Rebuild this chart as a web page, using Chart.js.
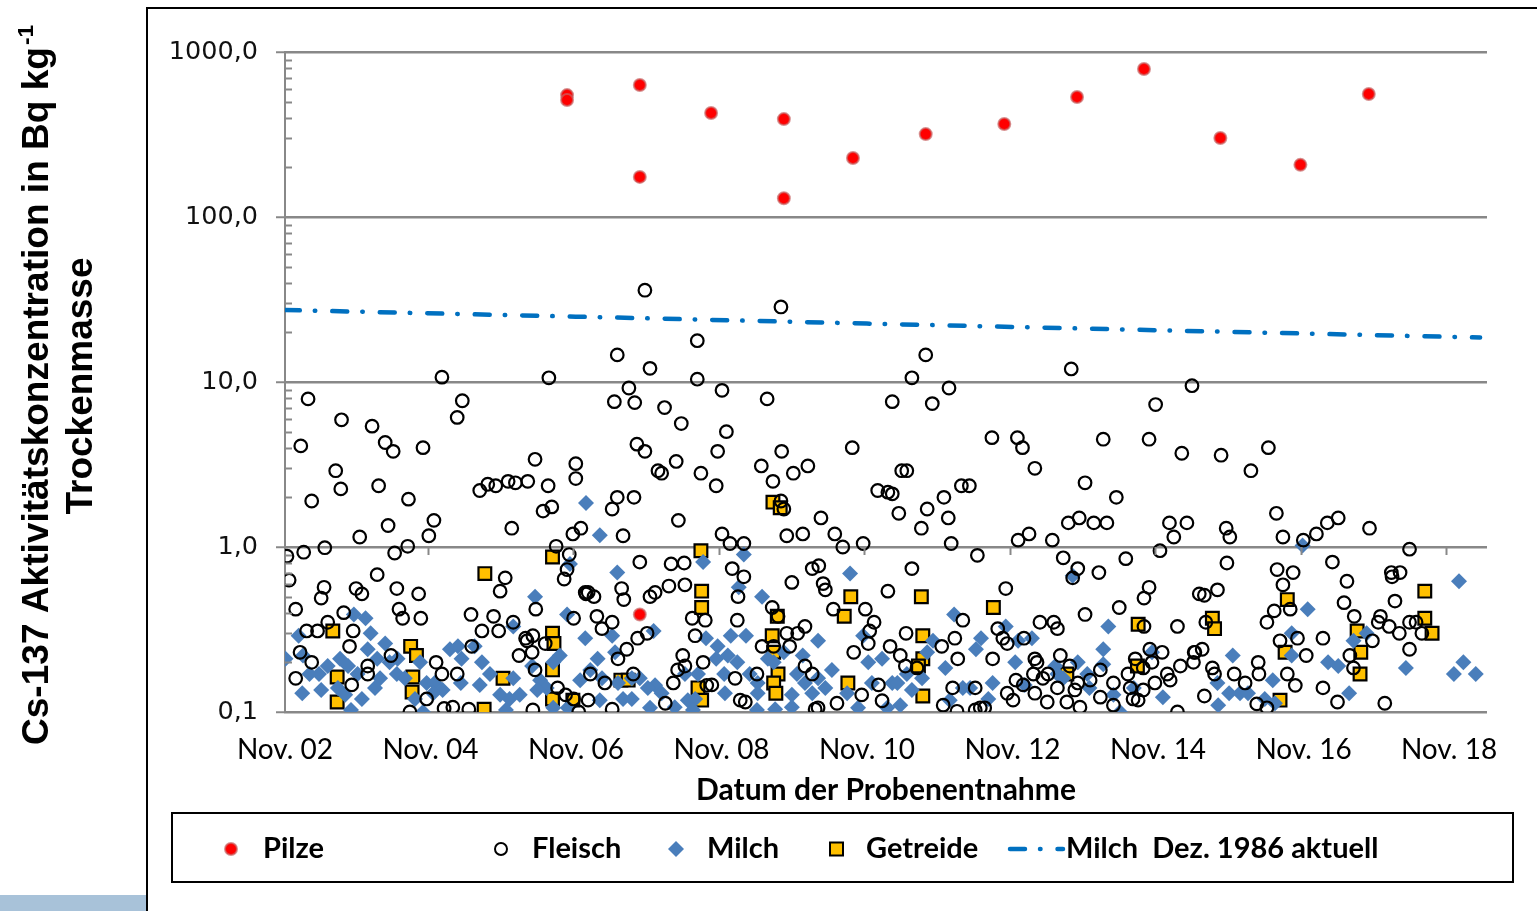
<!DOCTYPE html>
<html>
<head>
<meta charset="utf-8">
<script src="https://cdn.jsdelivr.net/npm/chart.js@4"></script>
<style>
  body { margin: 0; background: #fff; }
  #wrap { position: absolute; left: 0; top: 0; width: 1537px; height: 911px; }
</style>
</head>
<body>
<div id="wrap"><canvas id="myChart" width="1537" height="911"></canvas></div>
<script>
// x = Jahr (dezimal), y = Bq/kg TM
const xTickValues = [2002.833, 2004.833, 2006.833, 2008.833, 2010.833, 2012.833, 2014.833, 2016.833, 2018.833];
const xTickLabels = ['Nov. 02', 'Nov. 04', 'Nov. 06', 'Nov. 08', 'Nov. 10', 'Nov. 12', 'Nov. 14', 'Nov. 16', 'Nov. 18'];
const yTickValues = [0.1, 1, 10, 100, 1000];

const pilze = [
  [2006.71, 548], [2006.71, 512], [2007.71, 631], [2007.71, 175], [2007.71, 0.39], [2008.69, 427],
  [2009.69, 392], [2009.69, 130], [2010.64, 228], [2011.64, 318], [2012.72, 366], [2013.72, 534],
  [2014.64, 789], [2015.69, 301], [2016.79, 207], [2017.73, 556]
];

const fleisch = [
  [2007.78,36],[2009.65,28.5],[2008.50,17.8],[2007.40,14.6],[2011.64,14.6],[2013.64,12],[2007.85,12.1],[2004.99,10.7],
  [2006.46,10.6],[2008.50,10.4],[2011.45,10.6],[2015.30,9.5],[2007.56,9.2],[2008.84,8.9],[2003.15,7.9],[2011.96,9.2],
  [2005.27,7.7],[2007.36,7.6],[2007.64,7.5],[2009.46,7.9],[2011.18,7.6],[2011.73,7.4],[2014.80,7.3],[2005.20,6.1],
  [2003.61,5.9],[2008.05,7.0],[2008.28,5.6],[2004.03,5.4],[2008.90,5.0],[2003.05,4.1],[2004.21,4.3],[2004.32,3.8],
  [2004.73,4.0],[2007.67,4.2],[2007.78,3.8],[2008.78,3.8],[2009.66,3.8],[2010.63,4.0],[2012.55,4.6],[2012.90,4.6],
  [2012.97,4.0],[2014.08,4.5],[2014.71,4.5],[2015.16,3.7],[2015.70,3.6],[2016.35,4.0],[2016.11,2.9],[2013.14,3.0],
  [2011.31,2.9],[2011.38,2.9],[2013.83,2.45],[2012.13,2.35],[2012.24,2.35],[2011.18,2.1],[2011.89,2.0],[2014.26,2.0],
  [2011.27,1.6],[2011.66,1.7],[2011.95,1.5],[2011.58,1.3],[2013.75,1.5],[2013.60,1.4],[2013.95,1.4],[2014.13,1.4],
  [2014.99,1.4],[2015.23,1.4],[2015.05,1.15],[2013.06,1.2],[2012.91,1.1],[2013.38,1.1],[2011.99,1.05],[2016.46,1.6],
  [2015.77,1.3],[2015.82,1.15],[2016.55,1.15],[2016.83,1.1],[2017.01,1.2],[2017.16,1.4],[2017.31,1.5],[2017.74,1.3],
  [2018.29,0.97],
  [2008.21,3.3],[2007.96,2.9],[2008.01,2.8],[2008.55,2.8],[2008.76,2.35],[2009.38,3.1],[2009.82,2.8],[2010.02,3.1],
  [2009.54,2.5],[2010.98,2.2],[2011.12,2.15],[2007.40,2.0],[2007.63,2.0],[2007.33,1.7],[2008.24,1.45],[2010.20,1.5],
  [2007.48,1.17],[2008.84,1.2],[2008.95,1.05],[2009.14,1.05],[2009.73,1.17],[2009.95,1.2],[2010.39,1.2],[2010.50,1.0],
  [2010.78,1.05],[2009.65,1.9],[2009.69,1.7],
  [2003.53,2.9],[2006.83,3.2],[2006.83,2.6],[2004.12,2.35],[2003.60,2.25],[2005.51,2.2],[2005.62,2.4],[2005.73,2.35],
  [2005.90,2.5],[2006.00,2.45],[2006.17,2.5],[2006.45,2.35],[2006.27,3.4],[2003.20,1.9],[2004.53,1.95],[2006.38,1.65],
  [2006.50,1.75],[2004.25,1.35],[2004.88,1.45],[2005.95,1.3],[2006.79,1.2],[2006.90,1.3],[2003.86,1.15],[2004.81,1.17],
  [2003.38,0.99],[2004.52,1.01],[2006.56,1.01],[2002.86,0.88],[2003.09,0.93],[2004.34,0.92],[2006.74,0.9],[2002.89,0.63],
  [2004.10,0.68],[2005.86,0.65],[2003.37,0.57],[2003.33,0.49],[2003.81,0.56],[2003.89,0.52],[2004.37,0.56],[2004.67,0.52],
  [2005.79,0.54],[2006.67,0.64],[2006.71,0.73],[2006.96,0.53],[2002.98,0.42],[2003.64,0.40],[2004.40,0.42],[2004.45,0.37],
  [2004.70,0.37],[2005.39,0.39],[2005.70,0.38],[2006.28,0.42],[2006.80,0.37],[2003.42,0.35],[2003.13,0.31],[2003.28,0.31],
  [2003.77,0.31],[2005.54,0.31],[2005.77,0.31],[2005.97,0.35],[2003.72,0.25],[2005.40,0.25],[2006.14,0.28],[2006.24,0.29],
  [2006.41,0.26],[2003.04,0.23],[2003.20,0.20],[2003.97,0.19],[2004.29,0.22],[2004.91,0.2],[2004.99,0.17],[2005.20,0.17],
  [2006.05,0.22],[2006.23,0.23],[2002.98,0.16],[2003.75,0.146],[2003.97,0.17],[2006.58,0.14],[2006.69,0.127],[2006.80,0.12],
  [2004.78,0.12],[2004.55,0.10],[2005.02,0.105],[2005.14,0.107],[2005.36,0.104],[2006.24,0.103],[2006.87,0.10],[2006.97,0.52],
  [2006.27,0.18],[2006.16,0.27],
  [2007.71,0.81],[2008.14,0.79],[2008.32,0.8],[2008.98,0.74],[2009.14,0.66],[2009.80,0.61],[2010.08,0.74],[2010.17,0.77],
  [2010.23,0.6],[2010.26,0.55],[2007.46,0.56],[2007.49,0.48],[2007.85,0.5],[2007.92,0.53],[2008.11,0.58],[2008.33,0.59],
  [2009.06,0.5],[2009.05,0.36],[2009.53,0.43],[2009.61,0.38],[2010.37,0.42],[2010.81,0.42],[2010.93,0.35],[2011.12,0.54],
  [2007.00,0.53],[2007.08,0.5],[2008.43,0.37],[2008.61,0.36],[2007.12,0.38],[2007.33,0.35],[2007.19,0.32],[2007.68,0.28],
  [2007.81,0.3],[2007.53,0.24],[2008.47,0.29],[2009.73,0.3],[2009.88,0.3],[2009.98,0.33],[2010.87,0.31],[2010.85,0.26],
  [2011.15,0.25],[2010.65,0.23],[2007.41,0.21],[2008.30,0.22],[2009.39,0.25],[2009.55,0.25],[2009.77,0.25],[2009.98,0.19],
  [2008.23,0.18],[2008.33,0.19],[2008.58,0.2],[2009.02,0.16],[2009.32,0.17],[2010.08,0.17],[2007.03,0.17],[2007.23,0.15],
  [2007.62,0.17],[2008.17,0.15],[2008.70,0.146],[2008.63,0.145],[2010.99,0.146],[2011.04,0.117],[2010.76,0.127],[2010.42,0.113],
  [2007.00,0.118],[2008.06,0.113],[2009.09,0.118],[2009.16,0.115],[2007.33,0.104],[2010.12,0.104],[2010.16,0.106],
  [2012.35,0.89],[2013.53,0.86],[2013.73,0.74],[2014.02,0.7],[2014.39,0.85],[2014.86,0.95],[2011.45,0.74],[2013.66,0.65],
  [2012.74,0.56],[2014.71,0.57],[2014.64,0.49],[2015.40,0.52],[2014.30,0.43],[2013.83,0.39],[2012.15,0.36],[2013.21,0.35],
  [2013.40,0.35],[2013.45,0.32],[2014.64,0.33],[2015.10,0.33],[2011.37,0.3],[2012.04,0.28],[2012.63,0.32],[2012.70,0.28],
  [2012.76,0.26],[2012.99,0.28],[2011.29,0.22],[2011.86,0.25],[2014.72,0.24],[2014.89,0.23],[2015.34,0.23],[2012.08,0.21],
  [2012.56,0.21],[2013.14,0.21],[2013.17,0.2],[2013.49,0.22],[2013.32,0.17],[2013.62,0.19],[2013.73,0.15],[2013.90,0.156],
  [2014.04,0.18],[2014.42,0.17],[2014.52,0.21],[2014.63,0.185],[2014.75,0.2],[2015.14,0.19],[2015.32,0.2],[2011.36,0.19],
  [2011.52,0.185],[2013.12,0.17],[2013.25,0.16],[2012.01,0.14],[2012.32,0.14],[2012.88,0.156],[2012.98,0.146],[2013.14,0.13],
  [2013.45,0.14],[2014.22,0.15],[2014.45,0.14],[2014.63,0.136],[2014.79,0.15],[2014.96,0.17],[2015.00,0.156],[2012.76,0.13],
  [2012.84,0.118],[2011.88,0.11],[2012.07,0.101],[2012.32,0.103],[2012.39,0.106],[2012.45,0.106],[2013.31,0.115],[2013.58,0.115],
  [2013.76,0.107],[2014.04,0.123],[2014.22,0.11],[2014.49,0.12],[2014.56,0.118],[2015.10,0.1],[2013.69,0.136],
  [2015.78,0.8],[2016.47,0.73],[2016.69,0.7],[2017.23,0.81],[2017.43,0.62],[2018.04,0.7],[2018.16,0.7],[2018.05,0.66],
  [2016.55,0.59],[2015.47,0.51],[2015.65,0.55],[2017.39,0.46],[2018.09,0.47],[2016.43,0.41],[2016.65,0.42],[2016.33,0.35],
  [2017.53,0.38],[2017.89,0.38],[2017.86,0.35],[2018.01,0.33],[2018.15,0.3],[2018.29,0.35],[2018.38,0.35],[2018.46,0.3],
  [2017.78,0.27],[2015.49,0.35],[2016.75,0.28],[2016.51,0.27],[2017.10,0.28],[2015.33,0.23],[2015.44,0.24],[2016.87,0.22],
  [2017.47,0.22],[2018.29,0.24],[2017.52,0.185],[2015.58,0.185],[2015.61,0.17],[2015.88,0.17],[2016.03,0.15],[2016.21,0.2],
  [2016.22,0.17],[2016.61,0.17],[2016.72,0.145],[2017.10,0.14],[2015.47,0.125],[2016.19,0.112],[2016.33,0.106],[2017.30,0.115],
  [2017.95,0.113]
];

const milch = [
  [2006.97,1.85],[2006.75,0.79],[2006.27,0.5],[2006.71,0.39],[2003.02,0.29],[2003.78,0.39],[2003.94,0.37],[2004.01,0.3],
  [2004.21,0.26],[2006.96,0.28],[2005.97,0.33],[2002.84,0.21],[2003.08,0.22],[2003.59,0.21],[2003.97,0.24],[2004.10,0.21],
  [2004.27,0.2],[2004.38,0.21],[2004.69,0.2],[2005.10,0.24],[2005.21,0.25],[2005.44,0.25],[2005.26,0.21],[2005.54,0.2],
  [2006.23,0.19],[2006.61,0.22],[2006.52,0.2],[2003.17,0.17],[2003.30,0.17],[2003.42,0.19],[2003.70,0.19],[2003.83,0.17],
  [2004.14,0.16],[2004.37,0.17],[2004.48,0.16],[2004.78,0.15],[2004.89,0.15],[2005.00,0.136],[2005.25,0.15],[2005.51,0.146],
  [2005.65,0.17],[2005.97,0.16],[2006.34,0.156],[2006.43,0.14],[2006.89,0.156],[2003.07,0.13],[2003.33,0.136],[2003.56,0.14],
  [2003.66,0.127],[2003.89,0.12],[2004.07,0.14],[2004.62,0.12],[2004.87,0.13],[2005.79,0.127],[2005.92,0.12],[2006.06,0.127],
  [2006.30,0.136],[2006.52,0.106],[2006.72,0.106],[2003.74,0.103],[2004.73,0.1],[2005.87,0.103],
  [2007.16,1.18],[2007.40,0.7],[2008.58,0.81],[2009.14,0.9],[2009.07,0.57],[2009.39,0.5],[2010.60,0.69],[2007.90,0.31],
  [2007.33,0.29],[2008.62,0.28],[2008.96,0.29],[2009.17,0.29],[2010.16,0.27],[2010.78,0.29],[2008.78,0.25],[2007.37,0.23],
  [2009.69,0.23],[2009.95,0.22],[2011.04,0.21],[2010.85,0.2],[2007.13,0.21],[2008.76,0.21],[2008.92,0.22],[2009.05,0.2],
  [2009.47,0.21],[2009.55,0.2],[2007.03,0.18],[2007.19,0.16],[2007.41,0.15],[2007.60,0.16],[2007.71,0.16],[2007.92,0.145],
  [2008.33,0.17],[2008.51,0.17],[2008.87,0.17],[2009.22,0.17],[2009.33,0.15],[2009.87,0.17],[2009.98,0.15],[2010.16,0.16],
  [2010.35,0.18],[2010.90,0.15],[2011.18,0.15],[2007.16,0.118],[2007.48,0.12],[2007.60,0.12],[2007.82,0.14],[2008.01,0.13],
  [2008.37,0.118],[2008.47,0.12],[2008.88,0.13],[2009.33,0.13],[2009.80,0.127],[2010.08,0.13],[2010.26,0.14],[2010.56,0.13],
  [2010.71,0.106],[2007.85,0.106],[2008.19,0.107],[2008.44,0.103],[2009.32,0.103],[2009.57,0.104],[2009.80,0.107],[2011.11,0.106],
  [2013.66,0.67],[2012.03,0.39],[2012.74,0.33],[2014.15,0.33],[2011.74,0.27],[2012.40,0.28],[2012.33,0.24],[2012.91,0.27],
  [2013.10,0.28],[2014.08,0.24],[2014.75,0.23],[2011.66,0.23],[2012.87,0.2],[2011.91,0.185],[2013.42,0.19],[2013.73,0.2],
  [2014.08,0.195],[2013.86,0.17],[2011.25,0.15],[2011.38,0.17],[2011.45,0.136],[2011.59,0.16],[2012.15,0.14],[2012.25,0.14],
  [2012.56,0.15],[2013.00,0.146],[2013.45,0.17],[2013.53,0.16],[2013.89,0.14],[2014.50,0.14],[2011.29,0.11],[2011.97,0.118],
  [2012.50,0.12],[2014.22,0.127],[2014.90,0.123],[2014.31,0.1],
  [2016.82,1.02],[2018.97,0.62],[2016.89,0.42],[2016.67,0.3],[2016.67,0.22],[2017.52,0.27],[2017.70,0.3],[2015.86,0.22],
  [2017.17,0.2],[2017.31,0.19],[2018.24,0.185],[2018.90,0.17],[2019.03,0.2],[2019.20,0.17],[2015.65,0.15],[2016.41,0.156],
  [2017.46,0.13],[2015.81,0.13],[2015.96,0.13],[2016.07,0.13],[2016.30,0.12],[2016.44,0.113],[2015.66,0.11]
];

const getreide = [
  [2006.51,0.87],[2005.58,0.69],[2003.49,0.31],[2004.56,0.25],[2004.64,0.22],[2006.51,0.3],[2006.53,0.26],[2003.55,0.163],
  [2003.55,0.115],[2004.59,0.163],[2004.58,0.132],[2005.83,0.16],[2006.51,0.18],[2005.57,0.104],[2006.51,0.12],[2006.79,0.118],
  [2008.55,0.95],[2008.56,0.54],[2008.56,0.43],[2009.54,1.87],[2009.64,1.73],[2010.61,0.5],[2010.52,0.38],[2009.60,0.38],
  [2009.53,0.29],[2009.55,0.23],[2009.61,0.17],[2009.55,0.15],[2009.58,0.13],[2008.51,0.14],[2008.56,0.118],[2010.57,0.15],
  [2007.45,0.156],[2007.55,0.156],[2011.58,0.5],[2012.57,0.43],[2014.56,0.34],[2011.60,0.29],[2011.60,0.21],[2011.54,0.19],
  [2011.60,0.125],[2013.58,0.17],[2014.55,0.19],[2015.58,0.37],[2015.61,0.32],[2016.61,0.48],[2016.58,0.23],[2016.51,0.118],
  [2017.57,0.31],[2017.62,0.23],[2017.61,0.17],[2018.50,0.54],[2018.50,0.37],[2018.60,0.3]
];

// Milch Dez. 1986 aktuell (Zerfallskurve)
const milch1986 = [[2002.83, 27.3], [2006.83, 24.9], [2010.83, 22.6], [2014.83, 20.6], [2019.26, 18.6]];

const toXY = arr => arr.map(p => ({ x: p[0], y: p[1] }));

const dashDot = [15, 15, 0.5, 17];

const extras = {
  id: 'extras',
  afterDraw(chart) {
    const ctx = chart.ctx;
    const yS = chart.scales.y;
    const xS = chart.scales.x;
    const area = chart.chartArea;
    ctx.save();

    // minor log ticks inside the axis
    ctx.strokeStyle = '#888';
    ctx.lineWidth = 2;
    [0.1, 1, 10, 100].forEach(d => {
      for (let m = 2; m <= 9; m++) {
        const py = Math.round(yS.getPixelForValue(d * m)) + 0.5;
        ctx.beginPath();
        ctx.moveTo(area.left, py);
        ctx.lineTo(area.left + 7, py);
        ctx.stroke();
      }
    });
    // small tick marks where the x axis crosses (1,0)
    const y1 = yS.getPixelForValue(1);
    xTickValues.slice(1).forEach(v => {
      const px = Math.round(xS.getPixelForValue(v)) - 2.5;
      ctx.beginPath();
      ctx.moveTo(px, y1);
      ctx.lineTo(px, y1 + 8);
      ctx.stroke();
    });

    // outer frame
    ctx.strokeStyle = '#000';
    ctx.lineWidth = 2;
    ctx.beginPath();
    ctx.moveTo(147, 911);
    ctx.lineTo(147, 8);
    ctx.lineTo(1537, 8);
    ctx.stroke();
    ctx.fillStyle = '#a8c2d9';
    ctx.fillRect(0, 895, 146, 16);

    // y title
    ctx.fillStyle = '#000';
    ctx.textBaseline = 'alphabetic';
    ctx.font = 'bold 36px "Liberation Sans", Arial, sans-serif';
    const main = 'Cs-137 Aktivitätskonzentration in Bq kg';
    const w1 = ctx.measureText(main).width;
    const sx = 698 / w1;
    ctx.save();
    ctx.translate(48, 745);
    ctx.rotate(-Math.PI / 2);
    ctx.scale(sx, 1);
    ctx.textAlign = 'left';
    ctx.fillText(main, 0, 0);
    ctx.font = 'bold 22px "Liberation Sans", Arial, sans-serif';
    ctx.fillText('-1', w1 + 2, -15);
    ctx.restore();
    ctx.save();
    ctx.translate(92, 386);
    ctx.rotate(-Math.PI / 2);
    ctx.font = 'bold 36px "Liberation Sans", Arial, sans-serif';
    const w2 = ctx.measureText('Trockenmasse').width;
    ctx.scale(257 / w2, 1);
    ctx.textAlign = 'center';
    ctx.fillText('Trockenmasse', 0, 0);
    ctx.restore();

    // legend
    ctx.strokeStyle = '#000';
    ctx.lineWidth = 2;
    ctx.strokeRect(172, 813, 1341, 69);
    const ly = 849;
    ctx.font = 'bold 29px Lato, "Open Sans", sans-serif';
    ctx.textAlign = 'left';
    ctx.textBaseline = 'middle';
    ctx.fillStyle = '#000';
    ctx.fillText('Pilze', 263, ly);
    ctx.fillText('Fleisch', 532, ly);
    ctx.fillText('Milch', 707, ly);
    ctx.fillText('Getreide', 866, ly);
    ctx.fillText('Milch  Dez. 1986 aktuell', 1066, ly);

    // legend markers
    ctx.beginPath();
    ctx.arc(231, ly, 6, 0, Math.PI * 2);
    ctx.fillStyle = '#ff0000';
    ctx.fill();
    ctx.strokeStyle = 'rgba(200,100,100,0.7)';
    ctx.lineWidth = 2;
    ctx.stroke();

    ctx.beginPath();
    ctx.arc(501, ly, 6, 0, Math.PI * 2);
    ctx.strokeStyle = '#000';
    ctx.stroke();

    ctx.beginPath();
    ctx.moveTo(676, ly - 8);
    ctx.lineTo(684, ly);
    ctx.lineTo(676, ly + 8);
    ctx.lineTo(668, ly);
    ctx.closePath();
    ctx.fillStyle = '#4a7ebb';
    ctx.fill();

    ctx.fillStyle = '#ffc000';
    ctx.fillRect(830, ly - 6.5, 13, 13);
    ctx.strokeStyle = '#000';
    ctx.strokeRect(830, ly - 6.5, 13, 13);

    ctx.strokeStyle = '#0070c0';
    ctx.lineWidth = 4.5;
    ctx.lineCap = 'round';
    ctx.setLineDash(dashDot);
    ctx.beginPath();
    ctx.moveTo(1010, ly);
    ctx.lineTo(1063, ly);
    ctx.stroke();
    ctx.setLineDash([]);

    ctx.restore();
  }
};

const ctx = document.getElementById('myChart');
const myChart = new Chart(ctx, {
  type: 'scatter',
  data: {
    datasets: [
      {
        label: 'Pilze',
        data: toXY(pilze),
        pointStyle: 'circle',
        pointRadius: 6,
        backgroundColor: '#ff0000',
        borderColor: 'rgba(200,100,100,0.7)',
        borderWidth: 2,
        order: 0
      },
      {
        label: 'Fleisch',
        data: toXY(fleisch),
        pointStyle: 'circle',
        pointRadius: 6.3,
        backgroundColor: 'rgba(255,255,255,0)',
        borderColor: '#000',
        borderWidth: 2.2,
        order: 1
      },
      {
        label: 'Milch',
        data: toXY(milch),
        pointStyle: 'rectRot',
        pointRadius: 8,
        backgroundColor: '#4a7ebb',
        borderColor: '#4a7ebb',
        borderWidth: 0,
        order: 2
      },
      {
        label: 'Getreide',
        data: toXY(getreide),
        pointStyle: 'rect',
        pointRadius: 9,
        backgroundColor: '#ffc000',
        borderColor: '#000',
        borderWidth: 2.2,
        order: 3
      },
      {
        label: 'Milch  Dez. 1986 aktuell',
        data: toXY(milch1986),
        showLine: true,
        pointRadius: 0,
        borderColor: '#0070c0',
        borderWidth: 4.5,
        borderDash: dashDot,
        borderCapStyle: 'round',
        order: 4
      }
    ]
  },
  options: {
    responsive: false,
    animation: false,
    devicePixelRatio: 1,
    layout: { padding: { left: 150, right: 50, top: 52, bottom: 99 } },
    plugins: {
      legend: { display: false },
      tooltip: { enabled: false }
    },
    scales: {
      x: {
        type: 'linear',
        min: 2002.833,
        max: 2019.355,
        afterBuildTicks: s => { s.ticks = xTickValues.map(v => ({ value: v })); },
        afterFit: s => { s.height = 100; },
        grid: { display: false, drawTicks: false },
        border: { display: false },
        ticks: {
          padding: 21,
          maxRotation: 0,
          autoSkip: false,
          color: '#000',
          font: { family: 'Lato', size: 28 },
          callback: (v, i) => xTickLabels[i]
        },
        title: {
          display: true,
          text: 'Datum der Probenentnahme',
          color: '#000',
          font: { family: 'Lato', size: 30, weight: 'bold' },
          padding: { top: 0, bottom: 4 }
        }
      },
      y: {
        type: 'logarithmic',
        min: 0.1,
        max: 1000,
        afterFit: s => { s.width = 135; },
        grid: { color: '#888', lineWidth: 2.5, tickLength: 9, tickColor: '#888', tickWidth: 2 },
        border: { display: true, color: '#888', width: 2 },
        ticks: {
          padding: 18,
          color: '#111',
          font: { family: 'DejaVu Sans', size: 25.5 },
          callback: v => yTickValues.includes(v) ? v.toFixed(1).replace('.', ',') : null
        }
      }
    }
  },
  plugins: [extras]
});
</script>
</body>
</html>
